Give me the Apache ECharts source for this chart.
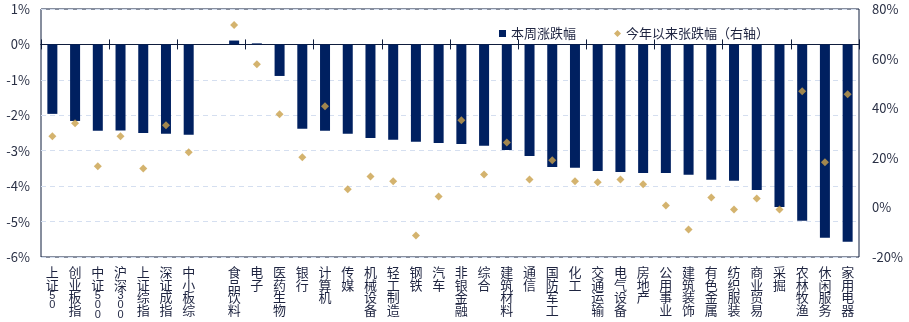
<!DOCTYPE html>
<html>
<head>
<meta charset="utf-8">
<script src="https://cdn.jsdelivr.net/npm/echarts@6/dist/echarts.min.js"></script>
<style>
  html, body { margin: 0; padding: 0; background: #fff; }
  #chart { width: 909px; height: 322px; }
</style>
</head>
<body>
<div id="chart"></div>
<script>
// Index and sector names (an empty slot separates indices from sectors)
const categories = [
  '上证50', '创业板指', '中证500', '沪深300', '上证综指', '深证成指', '中小板综', '',
  '食品饮料', '电子', '医药生物', '银行', '计算机', '传媒', '机械设备', '轻工制造',
  '钢铁', '汽车', '非银金融', '综合', '建筑材料', '通信', '国防军工', '化工',
  '交通运输', '电气设备', '房地产', '公用事业', '建筑装饰', '有色金属', '纺织服装',
  '商业贸易', '采掘', '农林牧渔', '休闲服务', '家用电器'
];

// Weekly change, % (left axis)
const weeklyChange = [
  -1.96, -2.16, -2.44, -2.43, -2.50, -2.52, -2.55, '-',
  0.11, 0.03, -0.89, -2.38, -2.44, -2.52, -2.64, -2.69,
  -2.75, -2.78, -2.81, -2.86, -2.98, -3.15, -3.46, -3.48,
  -3.57, -3.60, -3.63, -3.63, -3.68, -3.82, -3.85,
  -4.11, -4.59, -4.98, -5.46, -5.57
];

// Year-to-date change, % (right axis)
const ytdChange = [
  28.7, 33.9, 16.6, 28.7, 15.7, 33.1, 22.2, '-',
  73.5, 57.7, 37.6, 20.2, 40.8, 7.3, 12.5, 10.5,
  -11.3, 4.4, 35.1, 13.3, 26.2, 11.3, 19.0, 10.5,
  10.1, 11.3, 9.3, 0.8, -8.9, 4.0, -0.8,
  3.6, -0.8, 46.8, 18.2, 45.6
];

const seriesNames = ['本周涨跌幅', '今年以来张跌幅（右轴）'];

const leftAxis = { min: -6, max: 1, interval: 1 };
const rightAxis = { min: -20, max: 80, interval: 20 };

const FONT = '"Noto Sans CJK SC", "Noto Sans", sans-serif';
const DIGIT_FONT = '"Liberation Sans", "DejaVu Sans", sans-serif';
const NAVY = '#002060';
const GOLD = '#C9A04A';
const LINE = '#0f1d3d';
const TEXT = '#1e2440';

// Stack each character vertically; digits get a tighter line
function verticalLabel(s) {
  return s.split('').map(function (c) {
    return /[0-9]/.test(c) ? '{d|' + c + '}' : '{c|' + c + '}';
  }).join('\n');
}

const chart = echarts.init(document.getElementById('chart'), null, { renderer: 'canvas' });

const baseCat = {
  type: 'category',
  data: categories,
  boundaryGap: true,
  splitLine: { show: false }
};

chart.setOption({
  animation: false,
  textStyle: { fontFamily: FONT },
  grid: {
    left: 41, right: 50, top: 9, bottom: 65,
    show: true, borderColor: LINE, borderWidth: 1, backgroundColor: 'transparent'
  },
  legend: {
    left: 494, top: 22,
    itemWidth: 7, itemHeight: 7, itemGap: 38,
    textStyle: { fontFamily: FONT, fontSize: 13, color: TEXT },
    data: [
      { name: seriesNames[0], icon: 'rect' },
      { name: seriesNames[1], icon: 'diamond' }
    ]
  },
  xAxis: [
    // zero line with ticks pointing down
    Object.assign({}, baseCat, {
      position: 'bottom',
      axisLine: { show: true, onZero: true, onZeroAxisIndex: 0, lineStyle: { color: LINE, width: 1 } },
      axisTick: { show: true, length: 5, lineStyle: { color: LINE } },
      axisLabel: { show: false }
    }),
    // zero line with ticks pointing up
    Object.assign({}, baseCat, {
      position: 'top',
      axisLine: { show: true, onZero: true, onZeroAxisIndex: 0, lineStyle: { color: LINE, width: 1 } },
      axisTick: { show: true, length: 5, lineStyle: { color: LINE } },
      axisLabel: { show: false }
    }),
    // category names below the plot
    Object.assign({}, baseCat, {
      position: 'bottom',
      axisLine: { show: false, onZero: false },
      axisTick: { show: false },
      axisLabel: {
        show: true, interval: 0, margin: 9,
        verticalAlign: 'top', align: 'center',
        formatter: verticalLabel,
        rich: {
          c: { fontFamily: FONT, fontSize: 13, lineHeight: 12.6, color: TEXT },
          d: { fontFamily: DIGIT_FONT, fontSize: 11, lineHeight: 9.5, color: TEXT }
        }
      }
    })
  ],
  yAxis: [
    {
      type: 'value', position: 'left',
      min: leftAxis.min, max: leftAxis.max, interval: leftAxis.interval,
      axisLine: { show: false },
      axisTick: { show: false },
      axisLabel: {
        formatter: function (v) { return v + '%'; },
        fontFamily: FONT, fontSize: 13, color: '#2a3045', margin: 11
      },
      splitLine: { show: true, lineStyle: { color: '#d5dff0', type: [5, 4], width: 1 } }
    },
    {
      type: 'value', position: 'right',
      min: rightAxis.min, max: rightAxis.max, interval: rightAxis.interval,
      axisLine: { show: false },
      axisTick: { show: false },
      axisLabel: {
        formatter: function (v) { return v + '%'; },
        fontFamily: FONT, fontSize: 13, color: '#2a3045', margin: 13
      },
      splitLine: { show: false }
    }
  ],
  series: [
    {
      name: seriesNames[0],
      type: 'bar',
      xAxisIndex: 0, yAxisIndex: 0,
      data: weeklyChange,
      barWidth: 10,
      itemStyle: { color: NAVY }
    },
    {
      name: seriesNames[1],
      type: 'scatter',
      xAxisIndex: 0, yAxisIndex: 1,
      data: ytdChange,
      symbol: 'diamond',
      symbolSize: 8,
      itemStyle: { color: GOLD },
      z: 5
    }
  ]
});
</script>
</body>
</html>
